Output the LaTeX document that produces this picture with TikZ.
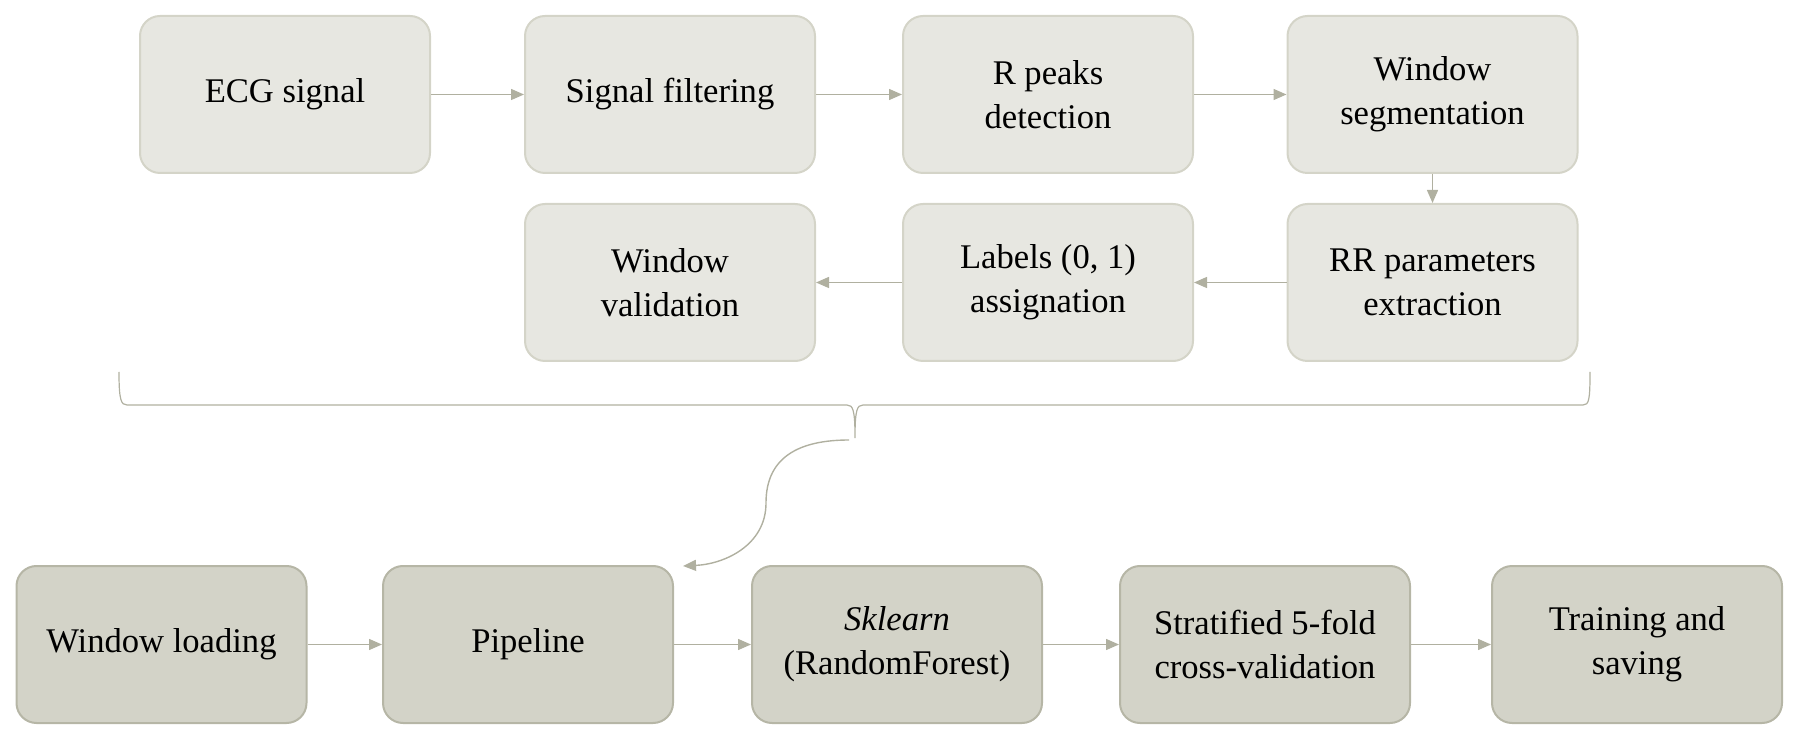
\documentclass[tikz,border=0pt]{standalone}
\usepackage{fontspec}
\setmainfont{Liberation Serif}
\usepackage{tikz}
\usetikzlibrary{arrows.meta}
\definecolor{topfill}{RGB}{231,231,225}
\definecolor{topline}{RGB}{212,212,200}
\definecolor{botfill}{RGB}{211,211,200}
\definecolor{botline}{RGB}{182,182,166}
\definecolor{flowcol}{RGB}{176,176,160}
\tikzset{TopBox/.style={shape=rectangle,rounded corners=10pt,draw=topline,fill=topfill,line width=1pt,
		minimum width=145pt,minimum height=78.5pt,align=center,font=\fontsize{17.3}{22}\selectfont},
	BotBox/.style={TopBox,draw=botline,fill=botfill},
	Flow/.style={-{Triangle[length=6.5pt,width=5.5pt]},draw=flowcol,fill=flowcol,line width=0.7pt}}

\begin{document}
\begin{tikzpicture}[x=0.5pt,y=-0.5pt]
	\useasboundingbox (0,0) rectangle (1808,742);
	\node[TopBox] (ECG) at (285,94.5) {ECG signal};
	\node[TopBox] (Filt) at (670,94.5) {Signal filtering};
	\node[TopBox] (Rpk) at (1048,94.5) {R peaks\\detection};
	\node[TopBox] (Seg) at (1432.5,94.5) {Window\\segmentation};
	\node[TopBox] (RR) at (1432.5,282.5) {RR parameters\\extraction};
	\node[TopBox] (Lab) at (1048,282.5) {Labels (0, 1)\\assignation};
	\node[TopBox] (Val) at (670,282.5) {Window\\validation};
	%
	\node[BotBox] (Load) at (161.5,644.5) {Window loading};
	\node[BotBox] (Pipe) at (528,644.5) {Pipeline};
	\node[BotBox] (Skl) at (897,644.5) {\textit{Sklearn}\\(RandomForest)};
	\node[BotBox] (CV) at (1265,644.5) {Stratified 5-fold\\cross-validation};
	\node[BotBox] (Train) at (1637,644.5) {Training and\\saving};
	%
	\path[Flow]
	(ECG) edge (Filt)
	(Filt) edge (Rpk)
	(Rpk) edge (Seg)
	(Seg) edge (RR)
	(RR) edge (Lab)
	(Lab) edge (Val)
	(Load) edge (Pipe)
	(Pipe) edge (Skl)
	(Skl) edge (CV)
	(CV) edge (Train);
	%
	\coordinate (BrL) at (119,372);
	\coordinate (BrTip) at (855,438);
	\coordinate (BrR) at (1590,372);
	\draw[flowcol,line width=0.6pt] (BrL) .. controls (119,400) and (121,405) .. (127,405) -- (847,405)
	.. controls (853,405) and (855,410) .. (BrTip)
	.. controls (855,410) and (857,405) .. (863,405) -- (1583,405)
	.. controls (1589,405) and (1590,400) .. (BrR);
	%
	\coordinate (CurveA) at (849,440);
	\coordinate (CurveB) at (683,566);
	\draw[Flow,fill=none] (CurveA) .. controls (785,440) and (766,468) .. (766,503)
	.. controls (766,545) and (725,564) .. (CurveB);
\end{tikzpicture}
\end{document}
